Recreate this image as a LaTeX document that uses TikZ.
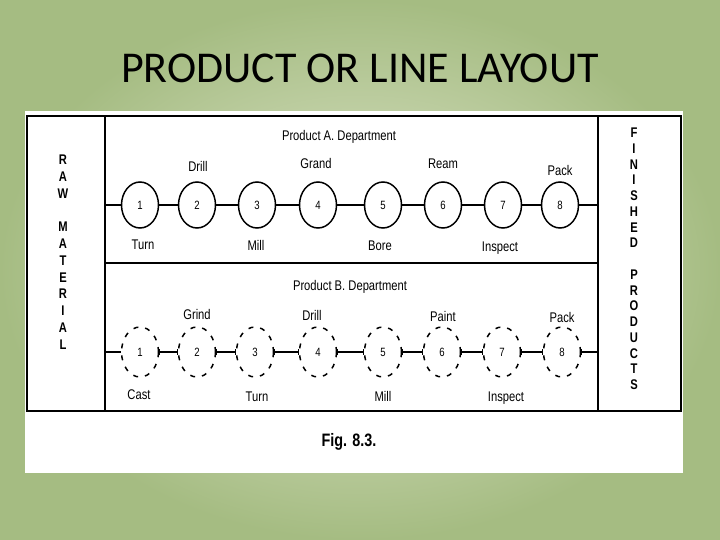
\documentclass[tikz,border=0pt]{standalone}
\usepackage{fontspec}
\setmainfont{Carlito}
\newfontfamily\figfont[FakeStretch=0.8]{Liberation Sans}
\usetikzlibrary{shapes.geometric, arrows.meta, positioning}
\definecolor{slidegreen}{RGB}{165,188,130}
\definecolor{slidelight}{RGB}{226,232,208}

\begin{document}
\begin{tikzpicture}[x=1pt, y=-1pt,
  station/.style={ellipse, draw, line width=1.5pt, minimum width=37pt, minimum height=46pt, inner sep=0pt, font=\figfont\fontsize{12}{12}\selectfont},
  dstation/.style={station, dashed, dash pattern=on 5pt off 7pt, minimum height=50pt},
  op/.style={font=\figfont\fontsize{14}{14}\selectfont},
  flow/.style={line width=1.6pt},
  dflow/.style={line width=1.6pt, {Bar[width=6pt,line width=1pt]}-{Bar[width=6pt,line width=1pt]}},
  frame/.style={line width=1.6pt},
  sidetext/.style={align=center, font=\figfont\bfseries\fontsize{14}{16.8}\selectfont}]

\useasboundingbox (0,0) rectangle (720,540);
\shade[inner color=slidelight, outer color=slidegreen] (0,0) rectangle (720,540);
\fill[white] (25,111) rectangle (683,473);

% title
\node[font=\fontsize{44}{44}\selectfont] (title) at (360,68) {PRODUCT OR LINE LAYOUT};

% frame
\draw[frame] (27,116) rectangle (681,411);
\draw[frame] (105,116) -- (105,411);
\draw[frame] (598,116) -- (598,411);
\draw[frame] (105,263) -- (598,263);

\node[sidetext] (raw) at (63,252) {R\\A\\W\\ \\M\\A\\T\\E\\R\\I\\A\\L};
\node[sidetext, font=\figfont\bfseries\fontsize{14}{15.75}\selectfont] (fin) at (634,259) {F\\I\\N\\I\\S\\H\\E\\D\\ \\P\\R\\O\\D\\U\\C\\T\\S};

% product A
\node[op] (deptA) at (339,137) {Product A. Department};
\coordinate (inA) at (105,205);
\coordinate (outA) at (598,205);
\node[station] (a1) at (140,205) {1};
\node[station] (a2) at (197,205) {2};
\node[station] (a3) at (257,205) {3};
\node[station] (a4) at (318,205) {4};
\node[station] (a5) at (383,205) {5};
\node[station] (a6) at (443,205) {6};
\node[station] (a7) at (503,205) {7};
\node[station] (a8) at (560,205) {8};

\node[op] (drillA) at (198,166) {Drill};
\node[op] (grandA) at (316,163) {Grand};
\node[op] (reamA) at (443,164) {Ream};
\node[op] (packA) at (560,170) {Pack};
\node[op] (turnA) at (143,245) {Turn};
\node[op] (millA) at (256,245) {Mill};
\node[op] (boreA) at (380,246) {Bore};
\node[op] (inspA) at (500,248) {Inspect};

\draw[flow] (inA) -- (a1);
\draw[flow] (a1) -- (a2);
\draw[flow] (a2) -- (a3);
\draw[flow] (a3) -- (a4);
\draw[flow] (a4) -- (a5);
\draw[flow] (a5) -- (a6);
\draw[flow] (a6) -- (a7);
\draw[flow] (a7) -- (a8);
\draw[flow] (a8) -- (outA);

% product B
\node[op] (deptB) at (350,287) {Product B. Department};
\coordinate (inB) at (105,352);
\coordinate (outB) at (598,352);
\node[dstation] (b1) at (140,352) {1};
\node[dstation] (b2) at (197,352) {2};
\node[dstation] (b3) at (255,352) {3};
\node[dstation] (b4) at (318,352) {4};
\node[dstation] (b5) at (383,352) {5};
\node[dstation] (b6) at (442,352) {6};
\node[dstation] (b7) at (502,352) {7};
\node[dstation] (b8) at (562,352) {8};

\node[op] (grindB) at (197,314) {Grind};
\node[op] (drillB) at (312,315) {Drill};
\node[op] (paintB) at (443,316) {Paint};
\node[op] (packB) at (562,317) {Pack};
\node[op] (castB) at (139,395) {Cast};
\node[op] (turnB) at (257,397) {Turn};
\node[op] (millB) at (383,396) {Mill};
\node[op] (inspB) at (506,398) {Inspect};

\draw[flow] (inB) -- (b1);
\draw[dflow] (b1) -- (b2);
\draw[dflow] (b2) -- (b3);
\draw[dflow] (b3) -- (b4);
\draw[dflow] (b4) -- (b5);
\draw[dflow] (b5) -- (b6);
\draw[dflow] (b6) -- (b7);
\draw[dflow] (b7) -- (b8);
\draw[dflow] (b8) -- (outB);

\node[font=\figfont\bfseries\fontsize{18}{18}\selectfont] (caption) at (349,442) {Fig. 8.3.};

\end{tikzpicture}
\end{document}
